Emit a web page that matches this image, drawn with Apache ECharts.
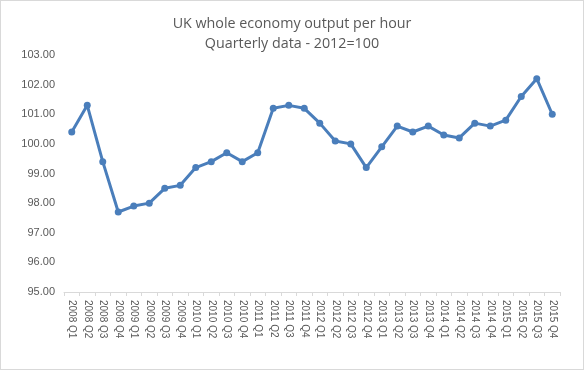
<!DOCTYPE html>
<html><head><meta charset="utf-8">
<script src="https://cdn.jsdelivr.net/npm/echarts@6/dist/echarts.min.js"></script>
<style>
html,body{margin:0;padding:0;background:#fff;}
#c{width:582px;height:368px;border:1px solid #d9d9d9;}
</style></head>
<body><div id="c"></div>
<script>
const categories = ["2008 Q1","2008 Q2","2008 Q3","2008 Q4","2009 Q1","2009 Q2","2009 Q3","2009 Q4",
"2010 Q1","2010 Q2","2010 Q3","2010 Q4","2011 Q1","2011 Q2","2011 Q3","2011 Q4",
"2012 Q1","2012 Q2","2012 Q3","2012 Q4","2013 Q1","2013 Q2","2013 Q3","2013 Q4",
"2014 Q1","2014 Q2","2014 Q3","2014 Q4","2015 Q1","2015 Q2","2015 Q3","2015 Q4"];
const outputPerHour = [100.4,101.3,99.4,97.7,97.9,98.0,98.5,98.6,
99.2,99.4,99.7,99.4,99.7,101.2,101.3,101.2,
100.7,100.1,100.0,99.2,99.9,100.6,100.4,100.6,
100.3,100.2,100.7,100.6,100.8,101.6,102.2,101.0];
const titleLines = ["UK whole economy output per hour","Quarterly data - 2012=100"];

const chart = echarts.init(document.getElementById('c'));
chart.setOption({
  animation:false,
  title:{
    text: titleLines.join('\n'),
    left:'center', top:8,
    textStyle:{fontFamily:'Open Sans',fontSize:14.3,fontWeight:'normal',color:'#595959',lineHeight:20}
  },
  grid:{left:63,right:23,top:54,bottom:77},
  xAxis:{
    type:'category',
    data:categories,
    boundaryGap:true,
    axisLine:{lineStyle:{color:'#d9d9d9'}},
    axisTick:{show:true,length:4,lineStyle:{color:'#d9d9d9'}},
    axisLabel:{rotate:-90,fontSize:10,color:'#595959',fontFamily:'Liberation Sans',margin:8,interval:0}
  },
  yAxis:{
    type:'value',min:95,max:103,interval:1,
    axisLine:{show:false},axisTick:{show:false},
    splitLine:{show:false},
    axisLabel:{formatter:v=>v.toFixed(2),fontSize:11,color:'#595959',fontFamily:'Liberation Sans',margin:9}
  },
  series:[{
    type:'line',
    data:outputPerHour,
    symbol:'circle',symbolSize:7,
    lineStyle:{color:'#4a7ebb',width:3},
    itemStyle:{color:'#4a7ebb'}
  }]
});
</script></body></html>
